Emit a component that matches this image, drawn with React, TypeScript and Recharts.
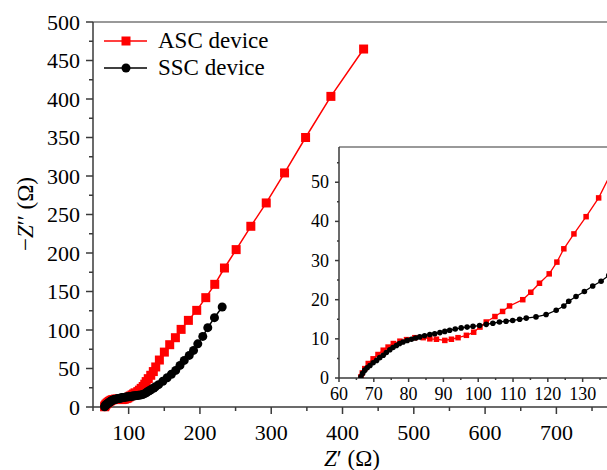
import React from 'react';
import { LineChart, Line, XAxis, YAxis, ReferenceLine, Label } from 'recharts';

const ascX = [66.3, 66.7, 67.4, 68.4, 69.8, 71.2, 72.7, 74.1, 75.6, 77.5, 79.4, 81.8, 84.2, 86.1, 88.0, 90.4, 92.3, 94.2, 96.6, 98.7, 100.5, 102.3, 104.8, 107.0, 109.0, 112.8, 115.1, 117.6, 120.4, 122.6, 124.6, 127.5, 131.0, 134.6, 138.0, 143.1, 150.1, 157.6, 165.6, 173.6, 183.8, 195.5, 208.2, 220.8, 234.4, 250.8, 271.4, 293.0, 318.7, 348.2, 383.7, 429.6];
const ascY = [0.3, 1.3, 2.4, 3.7, 4.9, 6.0, 7.1, 7.9, 8.8, 9.4, 9.8, 10.3, 10.3, 10.0, 9.9, 9.6, 9.9, 10.3, 10.9, 11.7, 13.0, 14.3, 15.7, 17.0, 18.4, 20.0, 21.9, 24.2, 26.6, 29.6, 33.0, 36.8, 41.2, 46.0, 52.0, 61.0, 71.3, 80.9, 90.0, 100.8, 112.5, 125.5, 142.0, 159.3, 180.5, 204.4, 234.7, 265.0, 304.0, 350.0, 403.4, 464.9];

const sscX = [66.3, 66.8, 67.4, 68.1, 68.9, 69.8, 70.8, 71.7, 72.7, 73.6, 74.6, 75.5, 76.5, 77.4, 78.4, 79.6, 80.8, 82.0, 83.2, 84.6, 86.1, 87.5, 89.0, 90.4, 91.8, 93.4, 95.1, 96.8, 98.5, 100.4, 102.3, 104.2, 106.1, 108.0, 109.9, 111.9, 113.8, 116.6, 119.5, 122.4, 124.6, 126.0, 128.1, 130.5, 132.9, 135.3, 137.5, 142, 148, 154, 160, 166, 172, 178, 185, 191, 197, 204, 211, 220.4, 231.2];
const sscY = [0.3, 1.2, 2.0, 2.6, 3.2, 3.9, 4.5, 5.2, 5.8, 6.5, 7.2, 7.8, 8.3, 8.8, 9.2, 9.6, 9.9, 10.2, 10.5, 10.8, 11.1, 11.3, 11.6, 11.9, 12.2, 12.5, 12.8, 13.0, 13.2, 13.4, 13.7, 14.0, 14.3, 14.5, 14.7, 15.0, 15.3, 15.6, 16.2, 17.3, 18.4, 19.6, 20.8, 22.1, 23.5, 24.7, 26.2, 29, 33.5, 38, 42.5, 47.5, 54, 60.5, 67, 73.5, 82, 91.7, 103, 116, 129.8];

const mainXTicks = [50, 100, 150, 200, 250, 300, 350, 400, 450, 500, 550, 600, 650, 700, 750];
const mainYTicks = [0, 25, 50, 75, 100, 125, 150, 175, 200, 225, 250, 275, 300, 325, 350, 375, 400, 425, 450, 475, 500];
const insetXTicks = [60, 65, 70, 75, 80, 85, 90, 95, 100, 105, 110, 115, 120, 125, 130, 135];
const insetYTicks = [0, 5, 10, 15, 20, 25, 30, 35, 40, 45, 50, 55];

const seriesNames = ['ASC device', 'SSC device'];

const asc = ascX.map((x, i) => ({ x, y: ascY[i] }));
const ssc = sscX.map((x, i) => ({ x, y: sscY[i] }));

const FONT = '"Liberation Serif", "Times New Roman", serif';
const AXIS = '#3a3a3a';
const RED = '#ff0000';
const BLACK = '#000000';

function isMajor(v: number, step: number) {
  return Math.abs(v / step - Math.round(v / step)) < 1e-6;
}

function makeXTick(step: number, majorLen: number, minorLen: number, fs: number, off: number) {
  return (props: any) => {
    const { x, y, payload } = props;
    const v = payload.value;
    const major = isMajor(v, step);
    const len = major ? majorLen : minorLen;
    return (
      <g>
        <line x1={x} x2={x} y1={y} y2={y + len} stroke={AXIS} strokeWidth={1.5} />
        {major && (
          <text x={x} y={y + off} textAnchor="middle" dominantBaseline="central" fontFamily={FONT} fontSize={fs} fill="#000">
            {v}
          </text>
        )}
      </g>
    );
  };
}

function makeYTick(step: number, majorLen: number, minorLen: number, fs: number, off: number) {
  return (props: any) => {
    const { x, y, payload } = props;
    const v = payload.value;
    const major = isMajor(v, step);
    const len = major ? majorLen : minorLen;
    return (
      <g>
        <line x1={x - len} x2={x} y1={y} y2={y} stroke={AXIS} strokeWidth={1.5} />
        {major && (
          <text x={x - off} y={y} textAnchor="end" dominantBaseline="central" fontFamily={FONT} fontSize={fs} fill="#000">
            {v}
          </text>
        )}
      </g>
    );
  };
}

function squareDot(size: number, color: string) {
  return (p: any) => (
    <rect key={'s' + p.index} x={p.cx - size / 2} y={p.cy - size / 2} width={size} height={size} fill={color} stroke="none" />
  );
}
function circleDot(r: number, color: string) {
  return (p: any) => <circle key={'c' + p.index} cx={p.cx} cy={p.cy} r={r} fill={color} stroke="none" />;
}

export default function App() {
  return (
    <div style={{ position: 'absolute', left: 0, top: 0, width: 607, height: 470, background: '#fff', overflow: 'hidden' }}>
      <LineChart width={607} height={470} margin={{ top: 22, right: 0, bottom: 0, left: 0 }}>
        <XAxis
          type="number"
          dataKey="x"
          domain={[50, 771]}
          ticks={mainXTicks}
          interval={0}
          height={63}
          tickSize={0}
          tickMargin={0}
          tickLine={false}
          axisLine={{ stroke: AXIS, strokeWidth: 1.5 }}
          tick={makeXTick(100, 7, 4, 22, 25)}
          allowDataOverflow
        >
          <Label
            content={() => (
              <text x={352} y={458} textAnchor="middle" dominantBaseline="central" fontFamily={FONT} fontSize={23} fill="#000">
                <tspan fontStyle="italic">Z</tspan>′ (Ω)
              </text>
            )}
          />
        </XAxis>
        <YAxis
          type="number"
          domain={[0, 500]}
          ticks={mainYTicks}
          interval={0}
          width={93}
          tickSize={0}
          tickMargin={0}
          tickLine={false}
          axisLine={{ stroke: AXIS, strokeWidth: 1.5 }}
          tick={makeYTick(50, 7, 4, 22, 13)}
        >
          <Label
            content={() => (
              <text x={25} y={214} transform="rotate(-90 25 214)" textAnchor="middle" dominantBaseline="central" fontFamily={FONT} fontSize={23} fill="#000">
                −<tspan fontStyle="italic">Z</tspan>′′ (Ω)
              </text>
            )}
          />
        </YAxis>
        <ReferenceLine y={500} stroke="#777" strokeWidth={1.5} />
        <Line data={asc} dataKey="y" name={seriesNames[0]} stroke={RED} strokeWidth={1.5} dot={squareDot(9, RED)} isAnimationActive={false} />
        <Line data={ssc} dataKey="y" name={seriesNames[1]} stroke={BLACK} strokeWidth={1.5} dot={circleDot(4.5, BLACK)} isAnimationActive={false} />
      </LineChart>

      <div style={{ position: 'absolute', left: 100, top: 27, fontFamily: FONT, fontSize: 23, lineHeight: '27px', color: '#000' }}>
        <div style={{ display: 'flex', alignItems: 'center', height: 27 }}>
          <svg width={50} height={14} style={{ marginRight: 8 }}>
            <line x1={4} x2={47} y1={7} y2={7} stroke={RED} strokeWidth={1.5} />
            <rect x={21.5} y={2.5} width={9} height={9} fill={RED} />
          </svg>
          <span>{seriesNames[0]}</span>
        </div>
        <div style={{ display: 'flex', alignItems: 'center', height: 27 }}>
          <svg width={50} height={14} style={{ marginRight: 8 }}>
            <line x1={4} x2={47} y1={7} y2={7} stroke={BLACK} strokeWidth={1.5} />
            <circle cx={26} cy={7} r={4.5} fill={BLACK} />
          </svg>
          <span>{seriesNames[1]}</span>
        </div>
      </div>

      <div style={{ position: 'absolute', left: 298, top: 143, width: 309, height: 262 }}>
        <LineChart width={309} height={262} margin={{ top: 4, right: 0, bottom: 0, left: 0 }}>
          <XAxis
            type="number"
            dataKey="x"
            domain={[60, 137]}
            ticks={insetXTicks}
            interval={0}
            height={27}
            tickSize={0}
            tickMargin={0}
            tickLine={false}
            axisLine={{ stroke: AXIS, strokeWidth: 1.5 }}
            tick={makeXTick(10, 4, 2, 18, 16)}
            allowDataOverflow
          />
          <YAxis
            type="number"
            domain={[0, 59]}
            ticks={insetYTicks}
            interval={0}
            width={41}
            tickSize={0}
            tickMargin={0}
            tickLine={false}
            axisLine={{ stroke: AXIS, strokeWidth: 1.5 }}
            tick={makeYTick(10, 4, 2, 18, 10)}
            allowDataOverflow
          />
          <ReferenceLine y={59} stroke="#777" strokeWidth={1.5} />
          <Line data={asc} dataKey="y" name={seriesNames[0]} stroke={RED} strokeWidth={1.3} dot={squareDot(5.5, RED)} isAnimationActive={false} />
          <Line data={ssc} dataKey="y" name={seriesNames[1]} stroke={BLACK} strokeWidth={1.3} dot={circleDot(2.8, BLACK)} isAnimationActive={false} />
        </LineChart>
      </div>
    </div>
  );
}
